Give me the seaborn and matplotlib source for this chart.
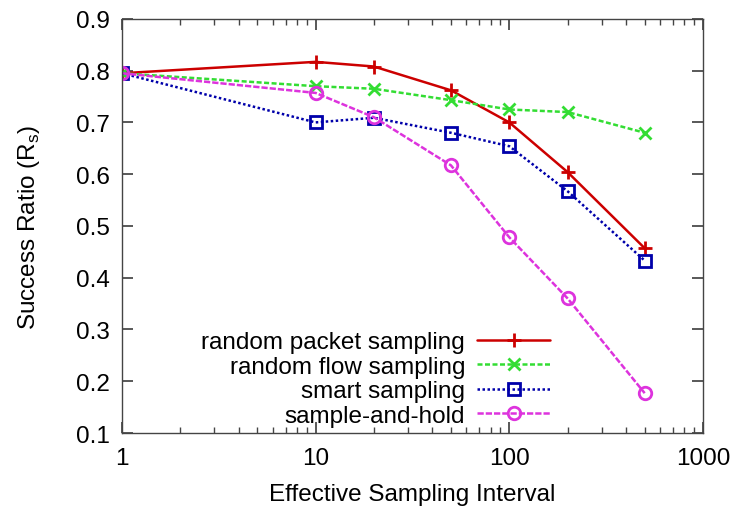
import matplotlib
matplotlib.use("Agg")
import matplotlib.pyplot as plt
import seaborn as sns
import pandas as pd
from matplotlib.ticker import NullFormatter, LogLocator

x_vals = [1, 10, 20, 50, 100, 200, 500]
random_packet = [0.795, 0.817, 0.808, 0.762, 0.700, 0.604, 0.457]
random_flow = [0.795, 0.770, 0.765, 0.743, 0.725, 0.720, 0.680]
smart = [0.795, 0.700, 0.709, 0.680, 0.654, 0.567, 0.433]
sample_hold = [0.795, 0.757, 0.710, 0.617, 0.478, 0.360, 0.177]
series_names = ["random packet sampling", "random flow sampling", "smart sampling", "sample-and-hold"]
y_ticks = [0.1, 0.2, 0.3, 0.4, 0.5, 0.6, 0.7, 0.8, 0.9]
x_ticks = [1, 10, 100, 1000]

sns.set_theme(style="ticks")
plt.rcParams['font.family'] = ['Liberation Sans', 'DejaVu Sans']
plt.rcParams['text.color'] = 'black'
plt.rcParams['axes.labelcolor'] = 'black'
plt.rcParams['xtick.labelcolor'] = 'black'
plt.rcParams['ytick.labelcolor'] = 'black'

colors = ["#cc0000", "#33dd33", "#0000aa", "#dd33dd"]
markers = ["+", "x", "s", "o"]
dashes = [None, (2, 1), (1, 1), (2.5, 0.8)]
msizes = [10, 9, 9, 9]

fig, ax = plt.subplots(figsize=(7.3, 5.1), dpi=100)
fig.subplots_adjust(left=0.167, right=0.963, top=0.961, bottom=0.149)

for name, vals, c, m, d, ms in zip(series_names,
                                    [random_packet, random_flow, smart, sample_hold],
                                    colors, markers, dashes, msizes):
    df = pd.DataFrame({"x": x_vals, "y": vals})
    kw = dict(color=c, marker=m, linewidth=1.8, markersize=ms, markeredgewidth=2,
              markerfacecolor="none", markeredgecolor=c, label=name, ax=ax)
    if d is not None:
        kw["dashes"] = d
    sns.lineplot(data=df, x="x", y="y", **kw)

ax.set_xscale("log")
ax.set_xlim(1, 1000)
ax.set_ylim(0.1, 0.9)
ax.set_xticks(x_ticks)
ax.set_xticklabels(["1", "10", "100", "1000"])
ax.set_yticks(y_ticks)
ax.set_yticklabels([f"{v:.1f}" for v in y_ticks])
ax.xaxis.set_minor_locator(LogLocator(base=10, subs=range(2, 10)))
ax.xaxis.set_minor_formatter(NullFormatter())
ax.tick_params(axis="both", which="both", direction="in", top=True, right=True,
               labelsize=17.5, pad=9, color="#444444")
ax.tick_params(which="major", length=8)
ax.tick_params(which="minor", length=4)
ax.tick_params(axis="x", which="major", pad=10)
for s in ax.spines.values():
    s.set_linewidth(1)
    s.set_color("#444444")

ax.set_xlabel("Effective Sampling Interval", fontsize=17.5, labelpad=10)
ax.set_ylabel("Success Ratio (R$_\\mathregular{s}$)", fontsize=17.5, labelpad=24)

leg = ax.legend(loc="lower right", bbox_to_anchor=(0.737, 0.015), frameon=False,
                markerfirst=False, fontsize=17.5, handlelength=3.0,
                handletextpad=0.5, labelspacing=0.1, borderaxespad=0.0,
                borderpad=0.0)
for t in leg.get_texts():
    t.set_ha("right")
    t.set_color("black")

fig.savefig("out.png", dpi=100)
